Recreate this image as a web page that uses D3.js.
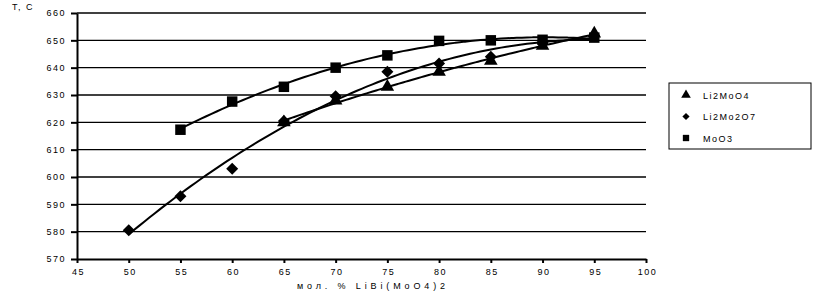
<!DOCTYPE html>
<html lang="ru">
<head>
  <meta charset="UTF-8">
  <title>T, C</title>
  <script src="https://cdn.jsdelivr.net/npm/d3@7/dist/d3.min.js"></script>
  <style>
    body { margin: 0; background: #fff; }
    svg text {
      font-family: "Liberation Sans", Arial, sans-serif;
      font-size: 9px;
      fill: #000;
      letter-spacing: 1.5px;
    }
    .grid line { stroke: #000; stroke-width: 1.3; }
    .axis path, .axis line { stroke: #000; stroke-width: 2; fill: none; }
    .trend { fill: none; stroke: #000; stroke-width: 2; }
  </style>
</head>
<body>
<svg width="834" height="298"></svg>
<script>
  // данные
  const li2moo4X = [65, 70, 75, 80, 85, 90, 95];
  const li2moo4Y = [620, 628, 633, 638.5, 642.5, 648, 652.5];
  const li2mo2o7X = [50, 55, 60, 65, 70, 75, 80, 85, 90, 95];
  const li2mo2o7Y = [580.5, 593, 603, 620.5, 629.5, 638.5, 641.5, 644, 649, 651.5];
  const moo3X = [55, 60, 65, 70, 75, 80, 85, 90, 95];
  const moo3Y = [617.3, 627.6, 633, 640, 644.5, 649.8, 650, 650.2, 651];
  const seriesNames = ['Li2MoO4', 'Li2Mo2O7', 'MoO3'];
  const xTicks = [45, 50, 55, 60, 65, 70, 75, 80, 85, 90, 95, 100];
  const yTicks = [570, 580, 590, 600, 610, 620, 630, 640, 650, 660];

  const svg = d3.select('svg');
  const x = d3.scaleLinear().domain([45, 100]).range([77, 646]);
  const y = d3.scaleLinear().domain([570, 660]).range([259, 13]);

  // сетка
  svg.append('g').attr('class', 'grid')
    .selectAll('line').data(yTicks.slice(1)).join('line')
    .attr('x1', x(45)).attr('x2', x(100))
    .attr('y1', d => y(d)).attr('y2', d => y(d));

  svg.append('g').attr('class', 'axis')
    .attr('transform', `translate(0,${y(570)})`)
    .call(d3.axisBottom(x).tickValues(xTicks).tickSize(4).tickSizeOuter(0).tickPadding(6))
    .call(g => g.selectAll('text').attr('dx', '0.1em'));

  svg.append('g').attr('class', 'axis')
    .attr('transform', `translate(${x(45)},0)`)
    .call(d3.axisLeft(y).tickValues(yTicks).tickSize(6).tickSizeOuter(0).tickPadding(5));

  svg.selectAll('.axis').attr('font-family', null).attr('font-size', null);

  // квадратичная линия тренда (МНК)
  function fit(xs, ys) {
    let s = Array(5).fill(0), t = [0, 0, 0];
    xs.forEach((xi, i) => {
      for (let k = 0; k < 5; k++) s[k] += Math.pow(xi, k);
      for (let k = 0; k < 3; k++) t[k] += Math.pow(xi, k) * ys[i];
    });
    const A = [[s[0], s[1], s[2], t[0]], [s[1], s[2], s[3], t[1]], [s[2], s[3], s[4], t[2]]];
    for (let i = 0; i < 3; i++) {
      for (let j = i + 1; j < 3; j++) {
        const f = A[j][i] / A[i][i];
        for (let k = i; k < 4; k++) A[j][k] -= f * A[i][k];
      }
    }
    const c = [0, 0, 0];
    for (let i = 2; i >= 0; i--) {
      let v = A[i][3];
      for (let k = i + 1; k < 3; k++) v -= A[i][k] * c[k];
      c[i] = v / A[i][i];
    }
    return v => c[0] + c[1] * v + c[2] * v * v;
  }

  const line = d3.line().x(d => x(d[0])).y(d => y(d[1])).curve(d3.curveBasis);
  // маркеры: треугольник, ромб (повёрнутый квадрат), квадрат
  const symbols = [d3.symbolTriangle, d3.symbolSquare, d3.symbolSquare];
  const sizes = [80, 72, 110];
  const rot = [0, 45, 0];
  const data = [[li2moo4X, li2moo4Y], [li2mo2o7X, li2mo2o7Y], [moo3X, moo3Y]];

  data.forEach(([xs, ys], i) => {
    const f = fit(xs, ys);
    const pts = d3.range(xs[0], xs[xs.length - 1] + 0.01, 0.5).map(v => [v, f(v)]);
    svg.append('path').attr('class', 'trend').attr('d', line(pts));
  });
  data.forEach(([xs, ys], i) => {
    svg.append('g').selectAll('path').data(xs).join('path')
      .attr('transform', (d, j) => `translate(${x(d)},${y(ys[j])}) rotate(${rot[i]})`)
      .attr('d', d3.symbol().type(symbols[i]).size(sizes[i]))
      .attr('fill', '#000');
  });

  // подписи осей
  svg.append('text').attr('x', 12).attr('y', 10).text('T, C');
  svg.append('text').attr('x', 297).attr('y', 289)
    .attr('textLength', 148).attr('lengthAdjust', 'spacing')
    .style('letter-spacing', '0px')
    .text('мол. % LiBi(MoO4)2');

  // легенда
  const lg = svg.append('g').attr('transform', 'translate(669,83)');
  lg.append('rect').attr('width', 142).attr('height', 66)
    .attr('fill', '#fff').attr('stroke', '#000').attr('stroke-width', 1);
  seriesNames.forEach((n, i) => {
    const yy = 12 + i * 21.5;
    lg.append('path').attr('transform', `translate(17,${yy}) rotate(${rot[i]})`)
      .attr('d', d3.symbol().type(symbols[i]).size(i === 1 ? 26 : 40)).attr('fill', '#000');
    lg.append('text').attr('x', 34).attr('y', yy + 3.5).text(n);
  });
</script>
</body>
</html>
